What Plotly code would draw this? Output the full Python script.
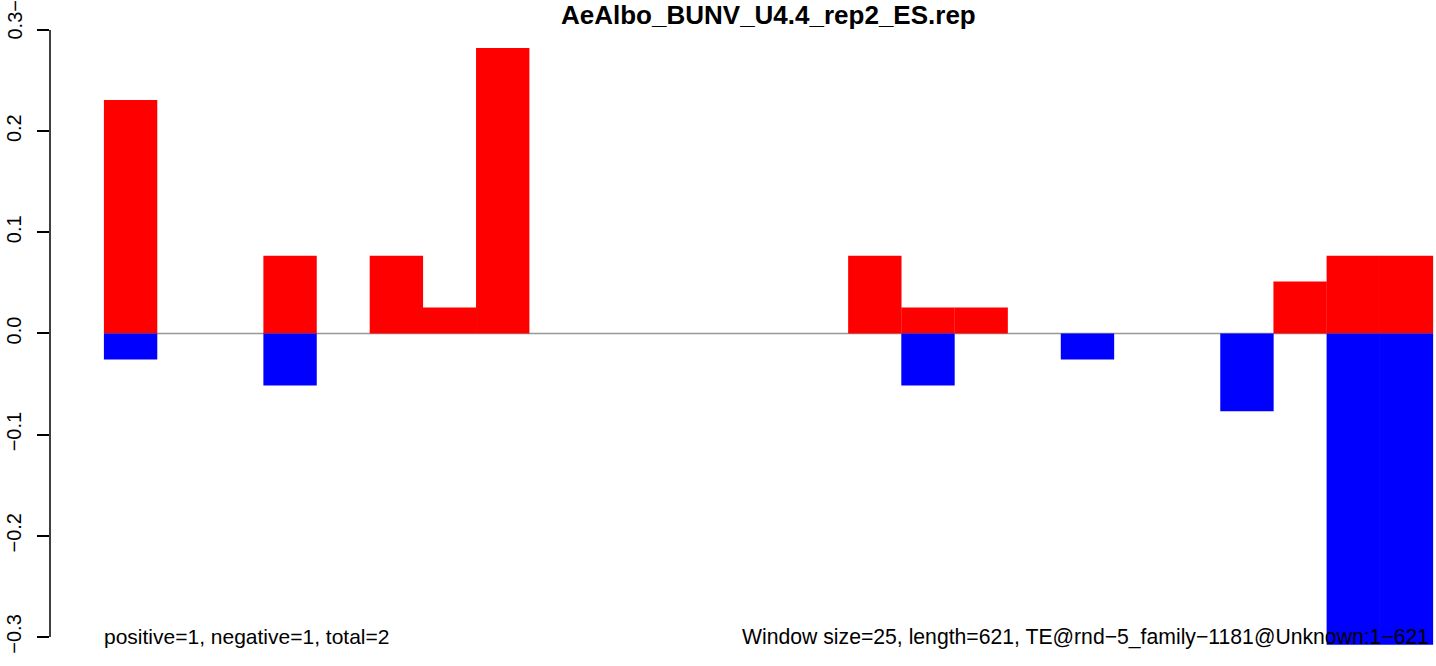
import plotly.graph_objects as go

# data: 25 windows (multiples of 1/39)
windows = list(range(25))
pos_vals = [0.2308, 0, 0, 0.0769, 0, 0.0769, 0.0256, 0.2821, 0, 0, 0, 0, 0, 0,
            0.0769, 0.0256, 0.0256, 0, 0, 0, 0, 0, 0.0513, 0.0769, 0.0769]
neg_vals = [-0.0256, 0, 0, -0.0513, 0, 0, 0, 0, 0, 0, 0, 0, 0, 0,
            0, -0.0513, 0, 0, -0.0256, 0, 0, -0.0769, 0, -0.3077, -0.3077]
ytick_vals = [-0.3, -0.2, -0.1, 0.0, 0.1, 0.2, 0.3]
ytick_text = ["\u22120.3", "\u22120.2", "\u22120.1", "0.0", "0.1", "0.2", ""]
top_label = "0.3\u22120.3"
title = "AeAlbo_BUNV_U4.4_rep2_ES.rep"
left_note = "positive=1, negative=1, total=2"
right_note = "Window size=25, length=621, TE@rnd\u22125_family\u22121181@Unknown:1\u2212621"

W, H = 1436, 666
L, R, T, B = 50, 0, 30, 0
xc = [w + 0.5 for w in windows]

fig = go.Figure()
fig.add_trace(go.Bar(x=xc, y=pos_vals, width=1.004, marker=dict(color="#FF0000", line=dict(width=0))))
fig.add_trace(go.Bar(x=xc, y=neg_vals, width=1.004, marker=dict(color="#0000FF", line=dict(width=0))))

font = "Liberation Sans, Arial, Helvetica, sans-serif"
fig.update_layout(
    width=W, height=H, margin=dict(l=L, r=R, t=T, b=B, autoexpand=False),
    barmode="overlay", showlegend=False,
    plot_bgcolor="white", paper_bgcolor="white",
    font=dict(family=font, size=20, color="black"),
    xaxis=dict(range=[-1.016, 25.056], showgrid=False, zeroline=False, automargin=False,
               showticklabels=False, ticks="", showline=False),
    yaxis=dict(range=[-0.3287, 0.3], showgrid=False, zeroline=False, automargin=False,
               tickvals=ytick_vals, ticktext=ytick_text, ticks="outside",
               ticklen=12, tickwidth=1.5, tickcolor="black", tickangle=-90,
               ticklabelstandoff=8,
               showline=False, tickfont=dict(size=20)),
)
# zero line under bars
fig.add_shape(type="line", xref="x", yref="y", x0=0, x1=25, y0=0, y1=0,
              line=dict(color="#999999", width=1.5), layer="below")
# y axis line from -0.3 to 0.3
fig.add_shape(type="line", xref="paper", yref="y", x0=0, x1=0, y0=-0.3, y1=0.3,
              line=dict(color="black", width=1.5))
fig.add_annotation(text=top_label, xref="paper", yref="paper", x=0, xshift=-36,
                   y=1, yshift=-12, textangle=-90, showarrow=False,
                   xanchor="center", yanchor="bottom", font=dict(size=20, family=font))
fig.add_annotation(text="<b>" + title + "</b>", xref="paper", yref="paper",
                   x=(768 - L) / (W - L), y=1, yshift=15, showarrow=False,
                   font=dict(size=26, family=font), xanchor="center", yanchor="middle")
fig.add_annotation(text=left_note, xref="x", yref="y", x=0, xshift=-2, y=-0.3, showarrow=False,
                   xanchor="left", yanchor="middle", font=dict(size=21, family=font))
fig.add_annotation(text=right_note, xref="x", yref="y", x=25, xshift=-2, y=-0.3, showarrow=False,
                   xanchor="right", yanchor="middle", font=dict(size=21.2, family=font))

fig.write_html("out.html", config={"displayModeBar": False},
               post_script="document.body.style.margin='0';document.body.style.overflow='hidden';")
